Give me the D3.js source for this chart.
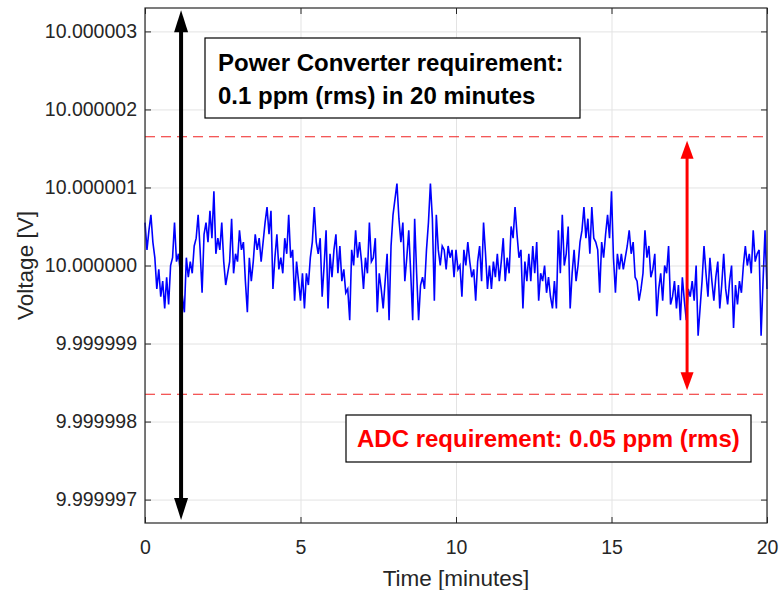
<!DOCTYPE html>
<meta charset="utf-8" />
<script src="https://d3js.org/d3.v7.min.js"></script>
<style>
  body { margin: 0; background: #fff; }
  text { font-family: "Liberation Sans", Arial, sans-serif; }
</style>
<body>
<div id="chart"></div>
<script>
  // --- data (deviation from 10 V, in microvolts), sampled uniformly over 20 minutes
  var noiseUV = [
    0.55,0.2,0.45,0.65,0.3,0.1,-0.3,-0.05,-0.4,-0.2,-0.55,-0.15,-0.5,0.0,0.1,0.55,0.05,0.15,-0.1,-0.4,-0.6,0.1,-0.15,0.05,-0.1,0.25,0.35,0.65,0.2,-0.35,0.4,0.55,0.3,0.7,0.35,0.95,0.15,0.35,0.2,0.55,0.05,-0.25,-0.1,0.05,0.6,-0.1,0.15,0.05,0.45,0.2,0.3,-0.2,-0.6,
    0.1,-0.2,0.05,0.4,0.2,0.35,0.05,0.3,0.55,0.75,0.4,0.7,-0.3,0.1,0.4,-0.05,0.1,-0.1,0.35,0.15,0.65,0.1,0.2,-0.45,0.05,-0.2,-0.45,-0.1,-0.55,-0.1,-0.25,0.1,0.3,0.75,0.3,0.15,0.35,-0.4,0.0,0.45,-0.55,0.15,-0.15,0.2,0.4,-0.1,0.25,-0.2,-0.05,-0.35,-0.3,-0.7,0.2,
    0.0,0.45,0.1,0.3,0.05,-0.3,0.1,-0.1,0.55,0.05,0.1,0.35,-0.6,-0.1,-0.3,-0.55,-0.2,0.15,-0.7,0.25,0.65,0.85,1.05,0.6,0.3,0.55,-0.2,0.1,0.45,-0.1,-0.7,0.6,-0.1,-0.7,-0.25,-0.15,-0.3,0.2,0.55,1.05,0.6,-0.45,0.65,0.2,0.0,0.25,0.2,-0.05,0.25,0.1,0.2,-0.15,0.2,-0.05,
    0.0,-0.4,0.2,0.0,0.3,0.05,-0.15,-0.05,-0.45,0.05,0.25,-0.2,0.55,0.15,-0.3,0.0,-0.3,0.05,-0.15,0.15,-0.2,0.05,0.35,-0.2,0.1,-0.1,0.5,0.35,0.75,0.4,0.1,0.2,-0.55,0.05,-0.2,0.15,-0.2,0.25,-0.1,0.3,-0.45,-0.1,-0.2,0.0,-0.35,-0.15,-0.4,-0.55,-0.2,-0.55,0.45,-0.1,0.65,0.0,
    0.15,0.5,-0.55,-0.1,0.2,-0.2,0.0,0.3,0.45,0.75,0.35,0.6,0.15,0.75,0.35,0.3,0.2,-0.35,0.3,0.1,0.4,0.65,0.35,0.95,0.1,-0.35,0.15,-0.05,0.15,-0.05,0.1,0.25,0.45,0.15,0.3,-0.15,-0.2,-0.45,-0.3,-0.1,0.45,0.1,0.25,-0.15,-0.05,0.15,-0.65,-0.3,-0.1,-0.45,0.0,-0.1,0.25,-0.5,
    -0.4,-0.2,-0.55,-0.25,-0.7,-0.15,-0.45,-0.7,-0.3,-0.4,-0.2,-0.45,0.0,-0.9,-0.55,-0.2,0.25,-0.1,-0.4,0.1,-0.2,-0.45,-0.15,0.05,-0.55,-0.25,0.15,-0.3,-0.5,-0.2,0.0,-0.8,-0.25,-0.5,-0.2,-0.35,0.0,0.25,0.0,0.15,-0.1,0.45,0.05,0.15,0.2,-0.9,-0.2,0.45,-0.3
  ];
  var duration = 20; // minutes
  var xTicks = [0, 5, 10, 15, 20];
  var yTicks = [9.999997, 9.999998, 9.999999, 10.0, 10.000001, 10.000002, 10.000003];
  var adcLimitsUV = [1.65, -1.65];
  var boxLines = ["Power Converter requirement:", "0.1 ppm (rms) in 20 minutes"];
  var adcText = "ADC requirement: 0.05 ppm (rms)";

  var margin = { top: 8, right: 17, bottom: 67, left: 145 },
    width = 784 - margin.left - margin.right,
    height = 590 - margin.top - margin.bottom;

  var svg = d3.select("#chart").append("svg")
    .attr("width", 784).attr("height", 590)
    .append("g")
    .attr("transform", "translate(" + margin.left + "," + margin.top + ")");

  var x = d3.scaleLinear().domain([0, duration]).range([0, width]);
  var y = d3.scaleLinear().domain([9.9999967, 10.0000033]).range([height, 0]);
  var v = function(uv) { return 10 + uv * 1e-6; };

  // grid
  svg.append("g").attr("class", "grid")
    .attr("transform", "translate(0," + height + ")")
    .call(d3.axisBottom(x).tickValues(xTicks).tickSize(-height).tickFormat(""));
  svg.append("g").attr("class", "grid")
    .call(d3.axisLeft(y).tickValues(yTicks).tickSize(-width).tickFormat(""));
  svg.selectAll(".grid .domain").remove();
  svg.selectAll(".grid line").attr("stroke", "#e3e3e3").attr("stroke-width", 1);

  // ADC limits
  svg.selectAll(".limit").data(adcLimitsUV).enter().append("line")
    .attr("x1", 0).attr("x2", width)
    .attr("y1", function(d) { return y(v(d)); })
    .attr("y2", function(d) { return y(v(d)); })
    .attr("stroke", "#f02020").attr("stroke-width", 1)
    .attr("stroke-dasharray", "10,6");

  // measured voltage
  var step = duration / (noiseUV.length - 1);
  svg.append("path")
    .datum(noiseUV)
    .attr("d", d3.line()
      .x(function(d, i) { return x(i * step); })
      .y(function(d) { return y(v(d)); }))
    .attr("fill", "none")
    .attr("stroke", "#0000ff")
    .attr("stroke-width", 1.6);

  // double headed arrows
  function arrow(t, lo, hi, color, shaft, headW, headL) {
    var cx = x(t), yTop = y(v(hi)), yBot = y(v(lo));
    svg.append("line")
      .attr("x1", cx).attr("x2", cx)
      .attr("y1", yTop + headL - 2).attr("y2", yBot - headL + 2)
      .attr("stroke", color).attr("stroke-width", shaft);
    svg.append("path")
      .attr("d", "M" + cx + "," + yTop + "L" + (cx - headW / 2) + "," + (yTop + headL) +
        "L" + (cx + headW / 2) + "," + (yTop + headL) + "Z")
      .attr("fill", color);
    svg.append("path")
      .attr("d", "M" + cx + "," + yBot + "L" + (cx - headW / 2) + "," + (yBot - headL) +
        "L" + (cx + headW / 2) + "," + (yBot - headL) + "Z")
      .attr("fill", color);
  }
  arrow(1.16, -3.26, 3.27, "#000", 4, 14, 22);
  arrow(17.43, -1.6, 1.6, "#ff0000", 3, 13, 18);

  // annotation boxes
  svg.append("rect")
    .attr("x", 60).attr("y", 30).attr("width", 375).attr("height", 80)
    .attr("fill", "#fff").attr("stroke", "#000").attr("stroke-width", 1.2);
  svg.selectAll(".boxline").data(boxLines).enter().append("text")
    .attr("x", 73)
    .attr("y", function(d, i) { return 63 + i * 33; })
    .style("font-size", "24px").style("font-weight", "bold")
    .attr("fill", "#000")
    .text(function(d) { return d; });

  svg.append("rect")
    .attr("x", 201).attr("y", 407).attr("width", 405).attr("height", 47)
    .attr("fill", "#fff").attr("stroke", "#000").attr("stroke-width", 1.2);
  svg.append("text")
    .attr("x", 212).attr("y", 439)
    .style("font-size", "24px").style("font-weight", "bold")
    .attr("fill", "#ff0000")
    .text(adcText);

  // axes (MATLAB style: ticks inside, box on)
  var fmt = d3.format(".6f");
  svg.append("g").attr("class", "axis")
    .attr("transform", "translate(0," + height + ")")
    .call(d3.axisBottom(x).tickValues(xTicks).tickSize(-6).tickPadding(17).tickFormat(d3.format("d")));
  svg.append("g").attr("class", "axis")
    .call(d3.axisTop(x).tickValues(xTicks).tickSize(-6).tickFormat(""));
  svg.append("g").attr("class", "axis")
    .call(d3.axisLeft(y).tickValues(yTicks).tickSize(-6).tickPadding(8).tickFormat(fmt));
  svg.append("g").attr("class", "axis")
    .attr("transform", "translate(" + width + ",0)")
    .call(d3.axisRight(y).tickValues(yTicks).tickSize(-6).tickFormat(""));
  svg.selectAll(".axis .domain").remove();
  svg.selectAll(".axis line").attr("stroke", "#262626");
  svg.selectAll(".axis text")
    .style("font-size", "19.5px")
    .style("font-family", "'Liberation Sans', Arial, sans-serif")
    .attr("fill", "#262626");

  svg.append("rect")
    .attr("width", width).attr("height", height)
    .attr("fill", "none").attr("stroke", "#262626").attr("stroke-width", 1.2);

  // axis labels
  svg.append("text")
    .attr("x", width / 2).attr("y", height + 63)
    .style("text-anchor", "middle").style("font-size", "22.5px")
    .attr("fill", "#262626")
    .text("Time [minutes]");
  svg.append("text")
    .attr("transform", "rotate(-90)")
    .attr("x", -y(10)).attr("y", -112)
    .style("text-anchor", "middle").style("font-size", "22.5px")
    .attr("fill", "#262626")
    .text("Voltage [V]");
</script>
</body>
